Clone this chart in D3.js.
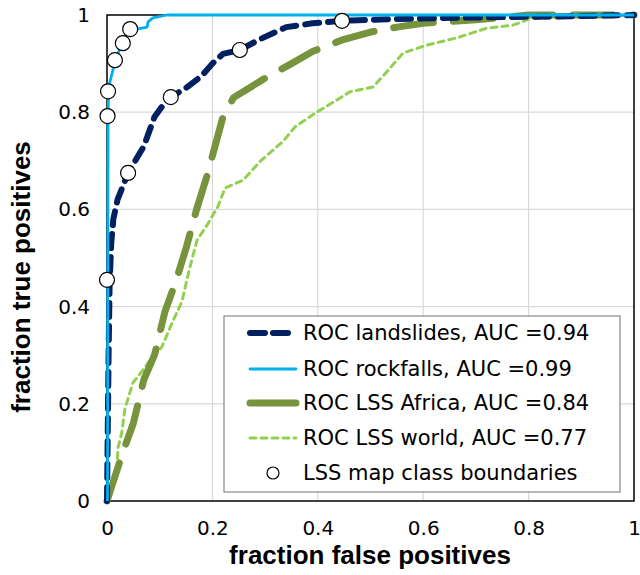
<!DOCTYPE html>
<html>
<head>
<meta charset="utf-8">
<script src="https://cdn.jsdelivr.net/npm/d3@7"></script>
<style>
  body { margin: 0; background: #fff; }
  text { font-family: "DejaVu Sans", Verdana, sans-serif; }
</style>
</head>
<body>
<div id="chart"></div>
<script>
// ROC curves, values (fraction false positives, fraction true positives)
const landslidesX = [0, 0.003, 0.005, 0.008, 0.012, 0.02, 0.04, 0.07, 0.09, 0.11, 0.121, 0.15, 0.18, 0.2, 0.22, 0.252, 0.29, 0.34, 0.39, 0.446, 0.55, 0.7, 0.85, 1]
const landslidesY = [0, 0.3, 0.45, 0.53, 0.58, 0.62, 0.675, 0.73, 0.79, 0.82, 0.831, 0.85, 0.875, 0.9, 0.92, 0.928, 0.95, 0.975, 0.983, 0.988, 0.992, 0.995, 0.997, 1]

const rockfallsX = [0.001, 0.002, 0.003, 0.005, 0.015, 0.028, 0.038, 0.057, 0.076, 0.078, 0.087, 0.114, 1]
const rockfallsY = [0, 0.8, 0.84, 0.86, 0.903, 0.942, 0.965, 0.971, 0.975, 0.986, 0.994, 1, 1]

const africaX = [0, 0.03, 0.05, 0.07, 0.09, 0.11, 0.13, 0.15, 0.17, 0.19, 0.21, 0.22, 0.24, 0.3, 0.35, 0.39, 0.45, 0.5, 0.55, 0.6, 0.7, 0.8, 1]
const africaY = [0, 0.1, 0.16, 0.25, 0.3, 0.39, 0.45, 0.52, 0.6, 0.67, 0.75, 0.79, 0.83, 0.87, 0.9, 0.925, 0.95, 0.965, 0.975, 0.983, 0.99, 1, 1]

const worldX = [0, 0.019, 0.021, 0.028, 0.034, 0.049, 0.065, 0.082, 0.104, 0.125, 0.142, 0.157, 0.171, 0.19, 0.21, 0.224, 0.258, 0.29, 0.334, 0.357, 0.398, 0.436, 0.461, 0.505, 0.531, 0.562, 0.607, 0.664, 0.721, 0.77, 0.802, 0.9, 1]
const worldY = [0, 0.07, 0.11, 0.14, 0.19, 0.243, 0.265, 0.29, 0.317, 0.37, 0.41, 0.48, 0.537, 0.568, 0.605, 0.644, 0.66, 0.698, 0.74, 0.77, 0.8, 0.825, 0.842, 0.852, 0.883, 0.922, 0.938, 0.953, 0.973, 0.979, 0.992, 0.996, 1]

// map class boundaries (circles)
const boundsX = [0, 0.001, 0.002, 0.015, 0.03, 0.044, 0.04, 0.121, 0.252, 0.446]
const boundsY = [0.455, 0.792, 0.843, 0.907, 0.942, 0.971, 0.675, 0.831, 0.928, 0.988]

const ticks = [0, 0.2, 0.4, 0.6, 0.8, 1]

const seriesNames = ['ROC landslides, AUC =0.94', 'ROC rockfalls, AUC =0.99', 'ROC LSS Africa, AUC =0.84', 'ROC LSS world, AUC =0.77']
const boundsName = 'LSS map class boundaries'

const dimension = {
    width: 640,
    height: 575,
    margin: { top: 15, right: 5, bottom: 74, left: 107 }
}
const ctrW = 634 - dimension.margin.left
const ctrH = 501 - dimension.margin.top

const svg = d3.select('#chart')
    .append('svg')
    .attr('width', dimension.width)
    .attr('height', dimension.height)

const ctr = svg.append('g')
    .attr('transform', `translate(${dimension.margin.left}, ${dimension.margin.top})`)

const xScale = d3.scaleLinear().domain([0, 1]).range([0, ctrW])
const yScale = d3.scaleLinear().domain([0, 1]).range([ctrH, 0])

// grid
ctr.append('g')
    .selectAll('line')
    .data(ticks.slice(1, -1))
    .join('line')
    .attr('x1', d => xScale(d)).attr('x2', d => xScale(d))
    .attr('y1', 0).attr('y2', ctrH)
    .attr('stroke', '#d9d9d9').attr('stroke-width', 1.2)
ctr.append('g')
    .selectAll('line')
    .data(ticks.slice(1, -1))
    .join('line')
    .attr('y1', d => yScale(d)).attr('y2', d => yScale(d))
    .attr('x1', 0).attr('x2', ctrW)
    .attr('stroke', '#d9d9d9').attr('stroke-width', 1.2)

// axes (labels only)
const fmt = d => d === 0 || d === 1 ? d3.format('d')(d) : d3.format('.1f')(d)
const xAxis = d3.axisBottom(xScale).tickValues(ticks).tickSize(0).tickPadding(20).tickFormat(fmt)
const yAxis = d3.axisLeft(yScale).tickValues(ticks).tickSize(0).tickPadding(17).tickFormat(fmt)

const xg = ctr.append('g').attr('transform', `translate(0, ${ctrH})`).call(xAxis)
const yg = ctr.append('g').call(yAxis)
;[xg, yg].forEach(g => {
    g.select('.domain').remove()
    g.selectAll('text')
        .style('font-family', '"DejaVu Sans", Verdana, sans-serif')
        .style('font-size', '20px')
        .attr('fill', '#000')
})

// border
ctr.append('rect')
    .attr('width', ctrW).attr('height', ctrH)
    .attr('fill', 'none').attr('stroke', '#000').attr('stroke-width', 1.5)

const line = d3.line().x(d => xScale(d[0])).y(d => yScale(d[1]))
const zip = (xs, ys) => xs.map((x, i) => [x, ys[i]])

const styles = [
    { color: '#002060', width: 6, dash: '14,9' },
    { color: '#00b0f0', width: 2.8, dash: null },
    { color: '#77933c', width: 7, dash: '40,20' },
    { color: '#92d050', width: 3, dash: '6,5' }
]
const data = [zip(landslidesX, landslidesY), zip(rockfallsX, rockfallsY), zip(africaX, africaY), zip(worldX, worldY)]

// blue rockfall line drawn last so it sits on top
const drawOrder = [3, 2, 0, 1]
drawOrder.forEach(i => {
    ctr.append('path')
        .datum(data[i])
        .attr('d', line)
        .attr('fill', 'none')
        .attr('stroke', styles[i].color)
        .attr('stroke-width', styles[i].width)
        .attr('stroke-dasharray', styles[i].dash)
        .attr('stroke-linecap', styles[i].dash ? 'round' : 'butt')
        .attr('stroke-linejoin', 'round')
})

ctr.append('g')
    .selectAll('circle')
    .data(zip(boundsX, boundsY))
    .join('circle')
    .attr('cx', d => xScale(d[0]))
    .attr('cy', d => yScale(d[1]))
    .attr('r', 7.5)
    .attr('fill', '#fff')
    .attr('stroke', '#000')
    .attr('stroke-width', 1.2)

// legend
const legend = svg.append('g').attr('transform', 'translate(224, 316)')
legend.append('rect')
    .attr('width', 396).attr('height', 176)
    .attr('fill', '#fff').attr('stroke', '#888').attr('stroke-width', 1.2)

const rowY = [17, 53, 87, 122, 157]
seriesNames.forEach((name, i) => {
    const g = legend.append('g').attr('transform', `translate(0, ${rowY[i]})`)
    g.append('line')
        .attr('x1', 26).attr('x2', 72)
        .attr('stroke', styles[i].color)
        .attr('stroke-width', styles[i].width)
        .attr('stroke-dasharray', i === 0 ? '15,8' : i === 3 ? '6,5' : null)
        .attr('stroke-linecap', 'round')
    g.append('text')
        .attr('x', 79).attr('dy', '0.35em')
        .style('font-size', '21px')
        .text(name)
})
const lastRow = legend.append('g').attr('transform', `translate(0, ${rowY[4]})`)
lastRow.append('circle').attr('cx', 49).attr('r', 6)
    .attr('fill', '#fff').attr('stroke', '#000').attr('stroke-width', 1.2)
lastRow.append('text').attr('x', 79).attr('dy', '0.35em')
    .style('font-size', '21px').text(boundsName)

// axis titles
svg.append('text')
    .attr('x', 370).attr('y', 564)
    .attr('text-anchor', 'middle')
    .style('font-family', '"Liberation Sans", Arial, sans-serif')
    .style('font-weight', 'bold')
    .style('font-size', '26px')
    .text('fraction false positives')
svg.append('text')
    .attr('transform', 'translate(30, 277) rotate(-90)')
    .attr('text-anchor', 'middle')
    .style('font-family', '"Liberation Sans", Arial, sans-serif')
    .style('font-weight', 'bold')
    .style('font-size', '26px')
    .text('fraction true positives')
</script>
</body>
</html>
